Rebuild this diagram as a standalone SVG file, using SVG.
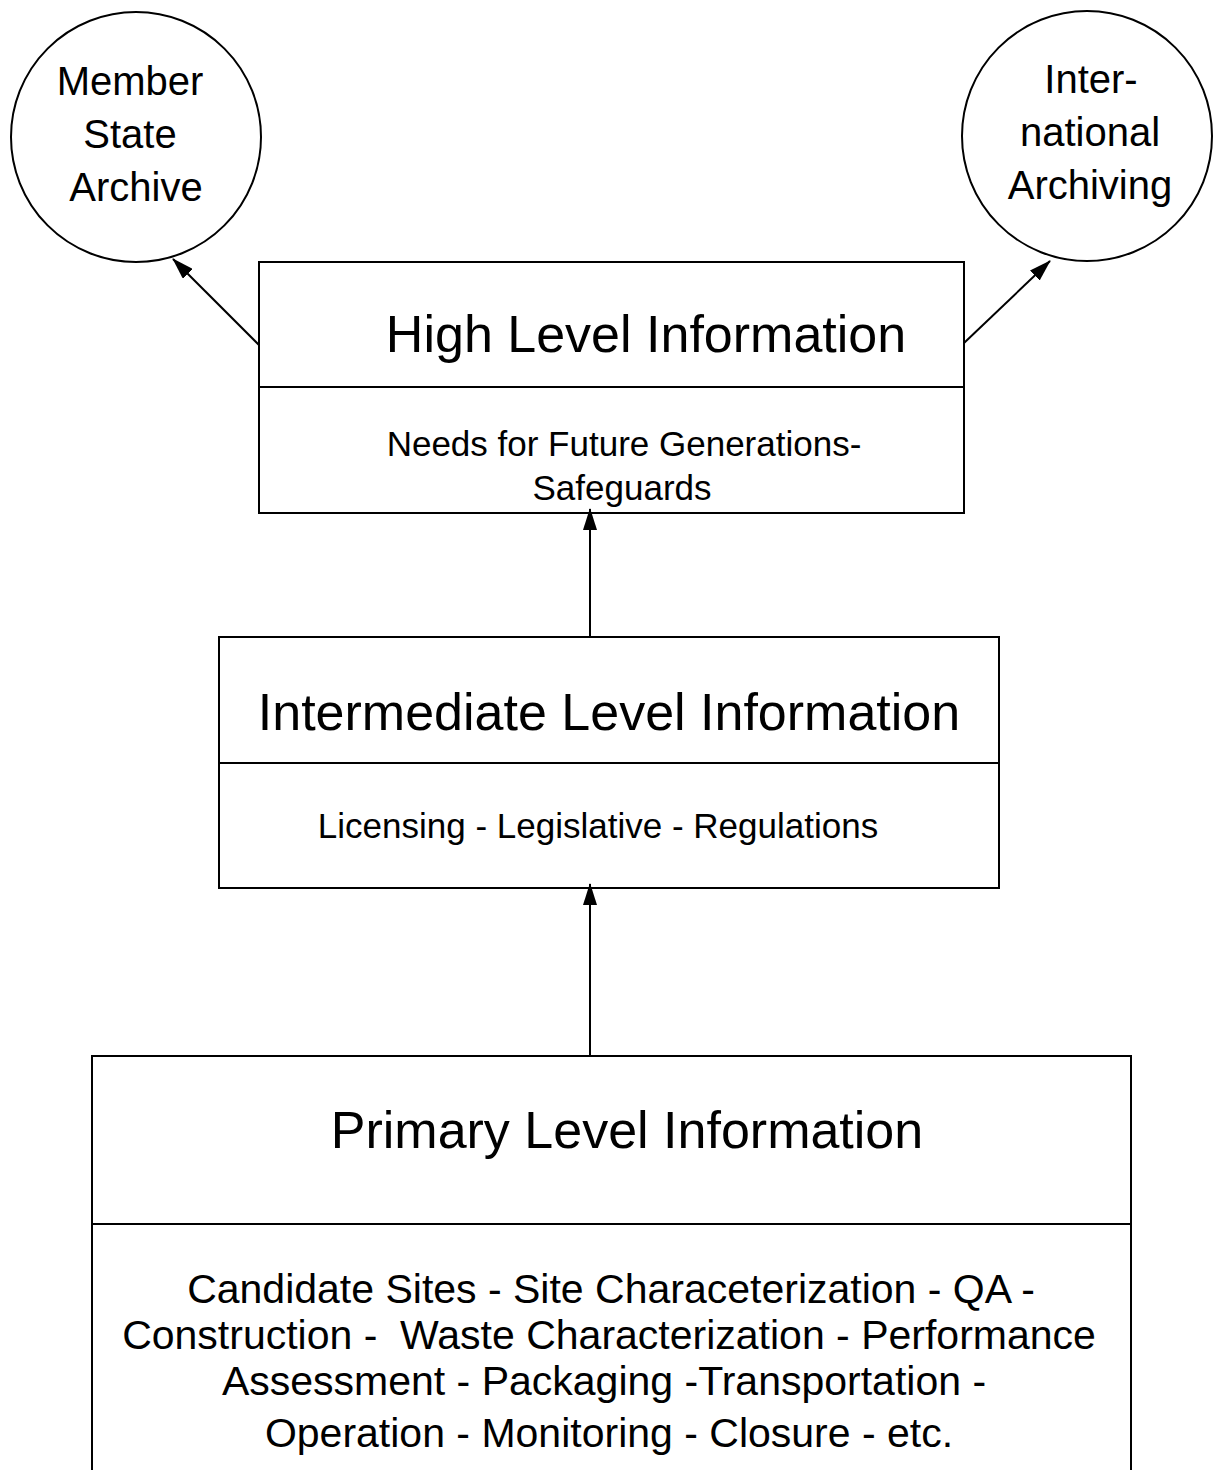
<svg xmlns="http://www.w3.org/2000/svg" width="1213" height="1470" viewBox="0 0 1213 1470">
<style>
.shape{fill:#fff;stroke:#000;stroke-width:2}
.div{stroke:#000;stroke-width:2}
.t{font-family:"Liberation Sans",Arial,sans-serif;fill:#000;text-anchor:middle}
.title{font-size:52px}
.circ{font-size:40px}
.sub{font-size:35px}
.body{font-size:41px}
.conn{stroke:#000;stroke-width:2;fill:none;marker-end:url(#ah)}
</style>
<defs>
<marker id="ah" viewBox="0 0 22 14" refX="21" refY="7" markerWidth="22" markerHeight="14" markerUnits="userSpaceOnUse" orient="auto">
<path d="M0,0 L22,7 L0,14 Z" fill="#000"/>
</marker>
</defs>
<rect width="1213" height="1470" fill="#fff"/>
<g id="member-state-archive">
<circle class="shape" cx="136" cy="137" r="125"/>
<text class="t circ" x="130" y="95">Member</text>
<text class="t circ" x="130" y="148">State</text>
<text class="t circ" x="136" y="201">Archive</text>
</g>
<g id="international-archiving">
<circle class="shape" cx="1087" cy="136" r="125"/>
<text class="t circ" x="1091" y="93">Inter-</text>
<text class="t circ" x="1090" y="146">national</text>
<text class="t circ" x="1090" y="199">Archiving</text>
</g>
<g id="high-level">
<rect class="shape" x="259" y="262" width="705" height="251"/>
<line class="div" x1="259" y1="387" x2="964" y2="387"/>
<text class="t title" x="646" y="352">High Level Information</text>
<text class="t sub" x="624" y="456">Needs for Future Generations-</text>
<text class="t sub" x="622" y="500">Safeguards</text>
</g>
<g id="intermediate-level">
<rect class="shape" x="219" y="637" width="780" height="251"/>
<line class="div" x1="219" y1="763" x2="999" y2="763"/>
<text class="t title" x="609" y="730">Intermediate Level Information</text>
<text class="t sub" x="598" y="838">Licensing - Legislative - Regulations</text>
</g>
<g id="primary-level">
<rect class="shape" x="92" y="1056" width="1039" height="430"/>
<line class="div" x1="92" y1="1224" x2="1131" y2="1224"/>
<text class="t title" x="627" y="1148">Primary Level Information</text>
<text class="t body" x="611" y="1303">Candidate Sites - Site Characeterization - QA -</text>
<text class="t body" x="609" y="1349" xml:space="preserve">Construction -  Waste Characterization - Performance</text>
<text class="t body" x="604" y="1395">Assessment - Packaging -Transportation -</text>
<text class="t body" x="609" y="1447">Operation - Monitoring - Closure - etc.</text>
</g>
<g id="connectors">
<line class="conn" x1="259" y1="345" x2="173" y2="259"/>
<line class="conn" x1="964" y1="343" x2="1050" y2="261"/>
<line class="conn" x1="590" y1="637" x2="590" y2="509"/>
<line class="conn" x1="590" y1="1056" x2="590" y2="884"/>
</g>
</svg>
